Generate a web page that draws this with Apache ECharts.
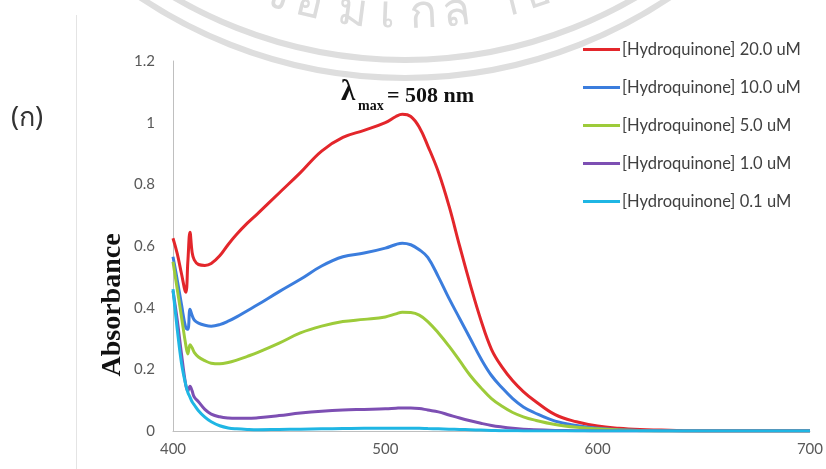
<!DOCTYPE html>
<html>
<head>
<meta charset="utf-8">
<script src="https://cdn.jsdelivr.net/npm/echarts@6/dist/echarts.min.js"></script>
<style>
  html, body { margin: 0; padding: 0; background: #ffffff; }
  #chart { width: 826px; height: 469px; }
</style>
</head>
<body>
<div id="chart"></div>
<script>
// Wavelength grid (nm) shared by all spectra
const wavelengths = [400, 402, 404, 406, 407, 408, 409, 410, 412, 415, 418, 422, 426, 430, 435, 440,
  450, 460, 470, 480, 490, 500, 505, 508, 512, 516, 520, 525, 530, 535, 540, 545, 550, 555, 560,
  565, 570, 580, 590, 600, 610, 620, 630, 640, 660, 680, 700];

// Absorbance spectra for each hydroquinone concentration
const abs20 = [0.625, 0.575, 0.51, 0.45, 0.55, 0.645, 0.58, 0.555, 0.54, 0.537, 0.543, 0.568, 0.605, 0.638, 0.674, 0.706,
  0.772, 0.838, 0.908, 0.952, 0.975, 1.0, 1.02, 1.027, 1.02, 0.985, 0.925, 0.84, 0.73, 0.60, 0.475, 0.36, 0.265, 0.207, 0.163,
  0.128, 0.10, 0.053, 0.03, 0.016, 0.009, 0.005, 0.003, 0.001, 0, 0, 0];
const abs10 = [0.565, 0.49, 0.41, 0.335, 0.33, 0.395, 0.375, 0.36, 0.35, 0.343, 0.34, 0.345, 0.356, 0.37, 0.39, 0.41,
  0.452, 0.492, 0.535, 0.565, 0.577, 0.593, 0.605, 0.609, 0.604, 0.588, 0.563, 0.50, 0.43, 0.365, 0.30, 0.235, 0.18, 0.14, 0.105,
  0.078, 0.06, 0.032, 0.018, 0.009, 0.004, 0.002, 0.001, 0, 0, 0, 0];
const abs5 = [0.549, 0.46, 0.37, 0.28, 0.25, 0.28, 0.27, 0.255, 0.24, 0.228, 0.22, 0.218, 0.222, 0.23, 0.242, 0.255,
  0.285, 0.318, 0.34, 0.355, 0.362, 0.37, 0.38, 0.385, 0.384, 0.376, 0.355, 0.318, 0.275, 0.228, 0.18, 0.14, 0.105, 0.08, 0.06,
  0.046, 0.036, 0.021, 0.012, 0.007, 0.003, 0.001, 0, 0, 0, 0, 0];
const abs1 = [0.455, 0.36, 0.25, 0.15, 0.13, 0.145, 0.13, 0.11, 0.095, 0.07, 0.055, 0.046, 0.042, 0.041, 0.041, 0.043,
  0.05, 0.058, 0.064, 0.068, 0.07, 0.072, 0.074, 0.075, 0.075, 0.073, 0.068, 0.062, 0.052, 0.042, 0.033, 0.025, 0.018, 0.013, 0.009,
  0.006, 0.004, 0.002, 0.001, 0, 0, 0, 0, 0, 0, 0, 0];
const abs01 = [0.46, 0.33, 0.22, 0.15, 0.125, 0.11, 0.095, 0.085, 0.066, 0.045, 0.03, 0.017, 0.01, 0.007, 0.005, 0.004,
  0.005, 0.006, 0.007, 0.008, 0.009, 0.009, 0.009, 0.009, 0.009, 0.009, 0.008, 0.007, 0.006, 0.005, 0.004, 0.003, 0.002, 0.001, 0.001,
  0, 0, 0, 0, 0, 0, 0, 0, 0, 0, 0, 0];

const seriesNames = ['[Hydroquinone] 20.0 uM', '[Hydroquinone] 10.0 uM', '[Hydroquinone] 5.0 uM',
  '[Hydroquinone] 1.0 uM', '[Hydroquinone] 0.1 uM'];
const seriesValues = [abs20, abs10, abs5, abs1, abs01];
const seriesColors = ['#e3262b', '#3b7ddd', '#9dcb3a', '#7d4fb3', '#1fb6e4'];

// Faint seal lettering that runs along the rings
const sealChars = ['จ', 'อ', 'ม', 'เ', 'ก', 'ล้', 'า', 'ธ'];
const sealCharX = [277, 310, 353, 388, 423, 456, 505, 537];

const chart = echarts.init(document.getElementById('chart'), null, { renderer: 'canvas' });

const series = seriesValues.map((vals, i) => ({
  name: seriesNames[i],
  type: 'line',
  data: wavelengths.map((w, j) => [w, vals[j]]),
  showSymbol: false,
  smooth: 0.4,
  lineStyle: { width: 3, color: seriesColors[i] },
  itemStyle: { color: seriesColors[i] },
  emphasis: { disabled: true },
  z: 2 + i
}));

const sansFont = 'Lato, "Noto Sans", sans-serif';
const serifFont = '"Liberation Serif", "DejaVu Serif", serif';
const axisFont = { fontFamily: sansFont, fontSize: 15, color: '#595959' };

// seal geometry
const sealCx = 405, sealCy = -397, sealTextR = 412;
const sealText = sealChars.map((ch, i) => {
  const x = sealCharX[i];
  const ang = Math.asin((x - sealCx) / sealTextR);
  const y = sealCy + sealTextR * Math.cos(ang);
  return {
    type: 'text', silent: true, z: -10, x: x, y: y, rotation: ang,
    style: { text: ch, font: '46px "Noto Sans", sans-serif', fill: '#dcdcdc', align: 'center', verticalAlign: 'middle' }
  };
});

chart.setOption({
  backgroundColor: '#ffffff',
  animation: false,
  grid: { left: 173, top: 61, width: 638, height: 370 },
  xAxis: {
    type: 'value', min: 400, max: 700, interval: 100,
    axisLine: { show: true, lineStyle: { color: '#bfbfbf', width: 1 } },
    axisTick: { show: false },
    splitLine: { show: false },
    axisLabel: Object.assign({ margin: 11 }, axisFont)
  },
  yAxis: {
    type: 'value', min: 0, max: 1.2, interval: 0.2,
    axisLine: { show: true, lineStyle: { color: '#bfbfbf', width: 1 } },
    axisTick: { show: false },
    splitLine: { show: false },
    axisLabel: Object.assign({ margin: 18 }, axisFont)
  },
  legend: {
    orient: 'vertical', left: 583, top: 41, padding: 0,
    itemWidth: 37, itemHeight: 3, itemGap: 21, icon: 'rect',
    textStyle: { fontFamily: sansFont, fontSize: 16.5, color: '#404040', lineHeight: 16, padding: [0, 0, 0, -3] },
    data: seriesNames
  },
  graphic: [
    // faint seal rings behind the plot
    { type: 'circle', silent: true, z: -10, shape: { cx: sealCx, cy: sealCy, r: 475 },
      style: { fill: null, stroke: '#dedede', lineWidth: 6 } },
    { type: 'circle', silent: true, z: -10, shape: { cx: sealCx, cy: sealCy, r: 457 },
      style: { fill: null, stroke: '#dedede', lineWidth: 6 } },
    ...sealText,
    // panel frame edge on the left
    { type: 'line', silent: true, z: -10, shape: { x1: 76.5, y1: 15, x2: 76.5, y2: 469 },
      style: { stroke: '#e4e4e4', lineWidth: 1 } },
    // panel label
    { type: 'text', x: 11, y: 118, silent: true,
      style: { text: '(ก)', font: '27px "Noto Sans", sans-serif', fill: '#333333', verticalAlign: 'middle' } },
    // y-axis title
    { type: 'text', silent: true, x: 113, y: 305, rotation: Math.PI / 2,
      style: { text: 'Absorbance', font: 'bold 28px ' + serifFont, fill: '#111111', align: 'center', verticalAlign: 'middle' } },
    // lambda max annotation
    { type: 'text', silent: true, x: 341, y: 93,
      style: { text: 'λ', font: 'bold 29px ' + serifFont, fill: '#111111', verticalAlign: 'middle' } },
    { type: 'text', silent: true, x: 358, y: 106,
      style: { text: 'max', font: 'bold 14px ' + serifFont, fill: '#111111', verticalAlign: 'middle' } },
    { type: 'text', silent: true, x: 387, y: 96,
      style: { text: '= 508 nm', font: 'bold 22px ' + serifFont, fill: '#111111', verticalAlign: 'middle' } }
  ],
  series: series
});
</script>
</body>
</html>
